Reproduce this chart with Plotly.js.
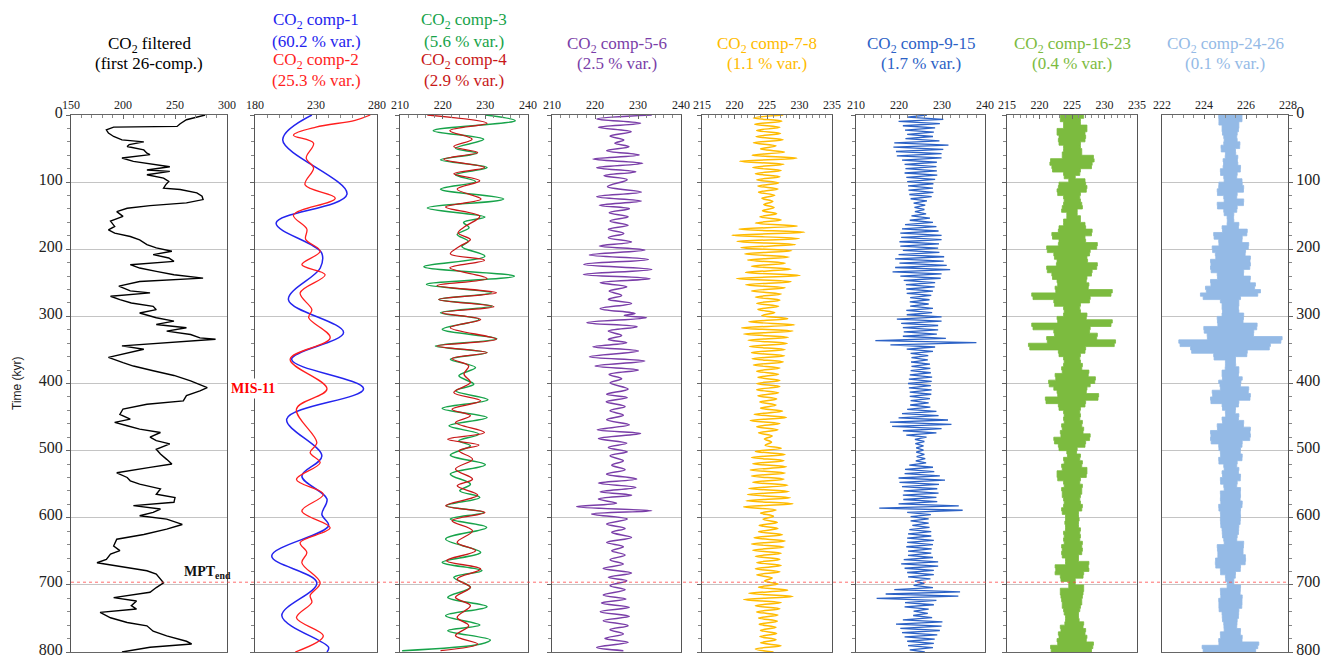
<!DOCTYPE html>
<html>
<head>
<meta charset="utf-8">
<script src="https://cdn.plot.ly/plotly-3.0.1.min.js"></script>
<style>
  html, body { margin: 0; padding: 0; background: #fff; }
  #chart { width: 1328px; height: 658px; }
</style>
</head>
<body>
<div id="chart"></div>
<script>
// ---------------- data (time in kyr, CO2 in ppmv) ----------------

// CO2 filtered (first 26 components)
const co2Age = [0,7,13,17,18,22,27,32,37,40,44,47,52,57,59,64,69,74,77,82,84,89,94,99,104,109,111,116,121,126,131,135,139,144,151,158,166,171,176,181,186,193,198,203,208,213,218,223,228,233,238,243,248,255,262,265,270,275,280,285,290,295,302,307,312,317,322,327,332,334,339,344,349,354,361,369,374,381,388,396,401,406,411,418,426,431,438,446,453,458,463,468,473,480,485,490,498,505,513,520,525,533,540,545,550,557,565,570,577,582,587,592,597,602,610,617,625,632,642,649,654,662,667,672,679,684,692,697,704,711,719,724,731,736,741,749,756,761,769,776,784,788,793,800];
const co2Filtered = [279,261,255,252,191,184,186,191,199,220,206,204,220,223,226,199,210,232,245,223,245,223,239,244,241,239,255,271,276,277,261,226,204,194,200,188,192,186,192,207,216,223,232,247,229,244,249,207,216,232,249,277,216,196,207,226,188,197,208,229,232,216,232,249,232,261,242,265,274,289,239,199,220,207,186,200,210,229,249,265,274,281,274,261,258,223,200,197,207,192,204,216,236,226,232,245,232,236,242,247,226,194,204,207,216,236,232,250,249,210,236,229,216,242,257,242,220,194,191,197,188,184,175,197,223,232,236,239,232,226,191,213,208,213,178,188,204,223,229,242,261,266,226,199];

// comp-1 and comp-2 (turning points)
const comp1Age = [0,37,118,161,205,228,275,324,364,408,453,508,538,572,595,612,657,697,746,793,800];
const comp1 = [226.6,202.7,255.4,197.3,234.5,233.5,207.4,252.6,210.0,269.0,206.0,234.8,218.4,239.0,234.8,240.3,193.7,230.7,202.0,240.3,239.0];
const comp2Age = [0,8,18,30,42,64,79,104,124,149,170,185,203,223,238,265,290,302,332,364,408,438,488,503,518,543,565,590,615,637,652,667,697,716,726,749,776,800];
const comp2 = [274.5,262.0,230.0,211.5,228.0,222.0,228.0,221.0,245.8,211.5,222.5,221.5,233.4,218.4,237.5,217.0,226.6,224.0,241.6,208.8,239.0,214.0,230.7,225.2,233.4,214.0,236.0,218.4,241.6,217.0,222.5,218.4,233.4,225.2,226.6,214.0,236.0,213.0];

// comp-3 and comp-4 (turning points)
const comp3Age = [0,8.4,23.3,36.1,49.5,56.9,66.8,78.2,89.1,99,110.4,125.2,138.6,152,160,168,178,188,196,210.4,226.2,240.1,252.5,264.9,274.8,284.7,294.6,304.5,319.3,333.2,344.1,354,363.9,376.2,388.6,401,410.9,424.3,437.2,450.6,463,475.4,485.4,492.8,506.7,521.1,535,549.9,559.8,569.7,582.1,592.1,602,614.4,631.8,651.6,666.5,678.9,688.8,703.7,718.6,732.5,745.9,759.8,768.2,782.1,788,798];
const comp3 = [230,237,217.8,229.6,223,228,219.5,230.4,223,227.7,219.5,234.3,216.4,229.9,224.9,226.2,223.4,226,224.5,229.9,215.6,236.8,216.2,231.5,219.1,231.6,219.5,228.5,219.9,232.7,218.3,230.4,221.8,227.7,223.8,227.3,223,230.6,219.9,230.4,221.5,228.5,223.8,226.5,221.8,230,221.8,226.5,224,228.7,220.9,229.6,221.8,230.3,220.7,228.9,219.9,229.2,222.6,226.5,221.2,230.4,220.7,228.7,221.2,231.2,229,210.5];
const comp4Age = [0,12.4,23.3,36.1,47,55.9,65.8,78.2,87.6,98,110.4,125.2,137.1,151,165.8,175.7,185.6,195.5,206.9,216.3,227.7,243.6,254,264.9,274.8,285.6,294.6,304.5,316.8,334.2,344.1,354,362.9,373.8,386.1,398.5,413.4,425.8,438.2,448.1,458.1,473,482.9,491.8,500.2,512.7,527.5,542.4,552.4,566.3,582.1,592.1,604.5,619.4,636.7,649.1,664,676.4,691.3,703.7,718.6,731,748.4,760.8,775.7,788.1,798];
const comp4 = [216.4,230.4,221.7,226.9,222.6,228.2,220.3,229.8,222.6,228.7,223.4,229,220.7,228.7,225.3,223.6,226.5,224,221.8,229.8,221.7,230.4,218.7,232.6,219.1,232,219.9,228.9,221.8,232.6,218.7,230.4,222.2,226.1,225,226.5,222.6,228.9,222.2,226.5,223,229.8,221.2,228.5,223.8,227,223,227,223.4,228.2,220.7,229.9,222.2,227,223.4,227.7,220.9,228.9,223.4,226.5,223,226.5,223.4,226.1,223,228.2,219.5];

// comp-5-6 (turning points)
const comp56Age = [0,6,12.4,18.4,24.8,31.3,37.3,42.2,47.2,53.2,59.6,65.6,72,78.5,84.5,90.4,96.4,106.8,114.8,121.7,128.2,134.6,139.6,145.6,151.5,158,164.4,170.4,176.4,182.8,189.3,195.2,201.2,208.6,215.1,222.6,230,237.5,243.9,249.9,255.8,262.3,268.8,274.7,280.7,288.6,295.6,298.8,302.1,309.5,315.5,321.9,328.4,334.3,339.3,345.3,351.7,360.2,366.6,374.1,380,386.5,392.9,399,408.4,415.9,420.8,427.3,434.2,440.7,447.1,454.1,461.5,469,474.4,481.9,488.8,495.3,501.7,507.7,515.1,521.6,528.5,535,542.4,548.4,554.8,561.3,566.3,572.2,578.2,583.6,589.6,594.5,602,609.4,615.9,621.8,629.3,636.7,643.2,649.1,655.6,662.5,669,675.4,682.4,688.8,693.8,701.2,707.2,715.1,721.1,727,733.5,739.9,746.9,753.3,760.8,766.7,773.2,779.7,785.6,793.1,798];
const comp56 = [233.2,220.4,230.6,220.8,228.4,223.5,226.7,224.6,227.9,222.7,230.3,219.5,231.1,220.4,229.5,222.1,227.5,222.9,230.8,220.4,230.8,221.0,228.0,223.3,227.7,223.5,227.7,223.1,226.7,223.1,228.5,221.0,231.6,218.7,232.4,217.4,233.2,217.3,232.8,221.2,227.4,223.3,226.2,223.1,228.5,221.2,229.3,226.8,232.0,218.1,229.8,223.1,226.2,223.1,227.4,219.5,230.1,218.7,231.6,220.0,230.1,223.3,226.2,223.5,227.7,222.7,227.5,222.6,227.0,223.5,226.6,222.7,228.0,220.5,230.6,220.8,227.4,223.1,227.5,223.5,226.6,223.9,227.0,222.7,229.7,220.8,229.5,221.2,228.5,220.8,225.0,215.7,233.2,219.2,227.5,222.7,227.0,223.9,228.5,222.7,226.6,223.9,227.0,223.5,226.6,221.9,228.5,223.1,227.4,223.5,227.0,221.9,227.2,221.5,228.0,221.2,228.0,221.9,227.7,223.5,226.6,222.3,227.7,220.4,226.6];

// comp-7-8 (turning points, evenly spaced over 0-800 kyr)
const comp78 = [227.5,222.9,227.3,223.1,227.0,223.4,227.1,223.3,227.5,222.9,226.4,224.0,227.7,222.7,229.6,220.8,227.6,222.8,227.2,223.2,227.0,223.4,226.8,223.6,226.7,223.7,226.2,224.2,225.9,224.5,226.1,224.3,226.5,223.9,227.2,223.2,229.7,220.7,230.8,219.6,230.0,220.4,229.4,221.0,228.8,221.6,228.4,222.0,227.8,222.6,228.7,221.7,230.1,220.3,228.7,221.7,227.8,222.6,227.2,223.2,227.0,223.4,226.8,223.6,226.2,224.2,228.2,222.2,229.3,221.1,229.0,221.4,228.3,222.1,228.1,222.3,227.8,222.6,227.7,222.7,227.5,222.9,227.0,223.4,226.8,223.6,227.0,223.4,227.0,223.4,226.8,223.6,226.5,223.9,226.4,224.0,227.4,223.0,228.0,222.4,227.0,223.4,226.7,223.7,225.8,224.6,225.7,224.7,227.2,223.2,227.8,222.6,227.6,222.8,228.0,222.4,227.8,222.6,227.6,222.8,228.2,222.2,228.4,222.0,228.6,221.8,229.0,221.4,226.4,224.0,226.0,224.4,226.6,223.8,226.7,223.7,227.4,223.0,227.8,222.6,227.6,222.8,227.2,223.2,227.0,223.4,227.2,223.2,227.0,223.4,225.8,224.6,226.7,223.7,228.2,222.2,229.0,221.4,227.2,223.2,227.0,223.4,226.7,223.7,226.6,223.8,226.4,224.0,226.5,223.9,226.4,224.0,227.2,223.2,226.0];

// comp-9-15 (turning points, evenly spaced over 0-800 kyr)
const comp915 = [226.5,221.9,230.3,219.9,229.5,220.9,228.4,221.4,228.1,221.9,
227.9,221.5,229.4,218.9,231.5,218.7,230.3,219.3,229.9,219.5,
229.9,220.7,228.8,221.3,228.7,221.5,228.8,221.3,228.9,221.7,
228.4,221.9,228.0,222.1,227.9,222.2,228.0,222.4,227.6,222.7,
226.5,223.4,226.1,223.6,225.9,223.7,226.3,222.9,227.2,222.5,
227.9,221.4,228.7,220.7,229.2,220.3,229.9,220.5,229.9,220.1,
229.3,220.3,229.1,220.9,229.4,219.9,230.5,219.1,230.4,220.1,
231.1,219.1,231.9,218.5,229.9,220.3,229.7,221.1,228.4,221.6,
228.3,221.7,227.9,221.8,227.5,222.6,227.1,222.5,226.9,222.6,
227.9,221.7,227.7,221.8,229.9,219.5,229.9,220.5,229.1,220.9,
229.1,221.1,228.8,220.9,230.9,214.5,238.0,218.0,228.4,221.8,
227.9,222.7,226.8,222.9,226.7,222.8,227.2,222.9,227.3,222.7,
227.4,222.5,227.7,222.3,227.6,222.1,227.4,222.3,227.6,222.5,
227.5,222.5,227.2,222.7,226.9,222.6,227.3,221.9,228.7,220.7,
229.2,219.9,231.4,217.9,232.2,218.4,229.9,220.9,228.7,221.7,
226.4,223.7,225.9,223.8,225.7,224.0,225.7,224.0,225.9,224.1,
226.1,223.9,226.3,222.4,227.9,221.4,228.2,221.3,229.5,219.9,
230.7,220.1,229.3,220.7,228.9,221.1,229.2,220.9,228.7,221.0,
228.9,219.9,233.9,215.4,234.8,221.9,227.4,222.7,226.9,222.7,
226.9,223.1,227.1,222.4,227.5,222.1,227.5,221.9,228.1,221.9,
227.9,221.7,227.6,222.1,227.5,222.1,227.9,221.1,229.1,220.5,
229.1,221.3,228.1,221.9,228.1,222.1,227.3,223.7,225.9,223.4,
227.9,218.9,234.2,216.9,233.8,214.8,228.7,221.4,228.1,221.3,
226.9,223.4,226.7,223.3,227.7,220.9,230.1,219.3,229.9,220.3,
229.5,220.7,228.9,221.3,228.3,221.9,228.1,222.1,227.9,222.5,
226.0];

// comp-16-23 and comp-24-26: half-width of the oscillation band, every 5 kyr
const comp1623Centre = 225.0;
const comp1623Spread = [1.8,1.8,1.3,1.3,2.3,2.3,2.0,2.1,2.0,1.3,1.3,1.5,1.5,3.3,3.4,3.1,3.0,1.3,1.2,0.5,2.0,2.1,2.3,2.2,1.3,1.2,1.3,1.5,1.6,0.8,0.8,1.3,1.3,2.0,2.1,3.1,3.0,2.0,2.1,3.9,3.8,2.8,2.7,2.3,2.4,3.9,3.8,3.1,3.0,2.3,2.2,2.6,2.5,6.2,6.0,2.8,2.7,1.3,1.2,1.3,2.3,2.2,6.2,6.0,2.8,2.7,3.9,3.8,6.7,6.5,2.1,2.0,1.3,1.2,1.3,1.6,1.5,2.6,2.5,3.6,3.5,2.8,2.3,2.2,4.1,4.0,2.1,2.0,1.3,1.2,1.3,1.2,1.6,1.5,1.8,1.7,2.8,2.7,2.1,2.0,0.8,0.7,1.3,1.2,1.6,1.5,2.3,2.3,2.2,1.3,1.2,1.6,1.5,1.5,1.3,1.2,1.3,1.6,1.5,1.0,1.0,1.1,1.0,1.0,1.3,1.2,1.3,1.2,1.6,1.5,1.6,1.5,1.0,1.0,2.6,2.5,2.6,1.8,1.7,0.5,0.5,1.8,1.8,1.7,1.6,1.5,1.5,1.3,1.2,1.0,1.0,1.1,1.8,1.7,2.1,2.0,2.3,2.2,3.3,3.2,3.0];
const comp2426Centre = 225.26;
const comp2426Spread = [0.56,0.55,0.55,0.4,0.4,0.38,0.32,0.3,0.32,0.45,0.44,0.24,0.25,0.35,0.33,0.35,0.48,0.47,0.32,0.3,0.55,0.56,0.63,0.62,0.32,0.3,0.63,0.62,0.32,0.3,0.16,0.15,0.16,0.4,0.38,0.8,0.78,0.56,0.55,0.87,0.85,0.72,0.7,0.95,0.93,0.95,0.92,0.63,0.62,0.95,0.93,1.19,1.15,1.43,1.3,0.48,0.4,0.4,0.38,0.4,0.63,0.62,0.6,1.27,1.25,1.11,1.1,2.46,2.4,1.9,1.85,0.8,0.78,0.24,0.24,0.25,0.4,0.4,0.38,0.56,0.5,0.48,0.87,0.85,0.95,0.93,0.4,0.38,0.24,0.23,0.4,0.38,0.63,0.62,0.95,0.93,0.95,0.92,0.56,0.55,0.48,0.47,0.56,0.55,0.32,0.3,0.4,0.38,0.48,0.47,0.32,0.3,0.48,0.47,0.48,0.46,0.56,0.55,0.48,0.47,0.48,0.47,0.46,0.4,0.39,0.38,0.32,0.3,0.63,0.62,0.6,0.6,0.71,0.72,0.7,0.48,0.47,0.24,0.23,0.16,0.16,0.48,0.47,0.46,0.56,0.55,0.55,0.54,0.4,0.39,0.38,0.32,0.31,0.3,0.48,0.47,0.56,0.55,1.35,1.3,1.2];

// Marker ages
const mis11Age = 408;
const mptEndAge = 696;

// ---------------- figure ----------------
const W = 1328, H = 658, TOP = 115, BOTTOM = 652;
const SERIF = '"Liberation Serif", "Times New Roman", serif';

const panels = [
  { px: [71, 227],    range: [150, 300], dtick: 50, minor: 10 },
  { px: [255, 377],   range: [180, 280], dtick: 50, minor: 10 },
  { px: [400, 528],   range: [210, 240], dtick: 10, minor: 2 },
  { px: [552, 681],   range: [210, 240], dtick: 10, minor: 2 },
  { px: [702, 832],   range: [215, 235], dtick: 5,  minor: 1 },
  { px: [856, 985],   range: [210, 240], dtick: 10, minor: 2 },
  { px: [1007, 1137], range: [215, 235], dtick: 5,  minor: 1 },
  { px: [1162, 1288], range: [222, 228], dtick: 2,  minor: 0.5 }
];

const C = {
  black: '#000000', comp1: '#2424ee', comp2: '#ff1e1e', comp3: '#17a34a', comp4: '#c81818',
  comp56: '#7a3ea8', comp78: '#ffbb00', comp915: '#2c62c6', comp1623: '#7cbb3f', comp2426: '#94bae6'
};

const ax = i => (i === 0 ? '' : String(i + 1));
const evenAges = arr => arr.map((_, i) => i * 800 / (arr.length - 1));
const fiveKyr = arr => arr.map((_, i) => i * 5);

function line(i, x, y, color, width, shape) {
  return {
    type: 'scatter', mode: 'lines', x: x, y: y,
    xaxis: 'x' + ax(i), yaxis: 'y' + ax(i),
    line: { color: color, width: width, shape: shape || 'linear', smoothing: 1 },
    hoverinfo: 'skip', showlegend: false
  };
}
function band(i, centre, spread, color) {
  const ages = fiveKyr(spread);
  const right = spread.map(s => centre + s);
  const left = spread.map(s => centre - s).reverse();
  return {
    type: 'scatter', mode: 'lines',
    x: right.concat(left), y: ages.concat(ages.slice().reverse()),
    xaxis: 'x' + ax(i), yaxis: 'y' + ax(i),
    fill: 'toself', fillcolor: color,
    line: { color: color, width: 0.8, shape: 'hv' },
    hoverinfo: 'skip', showlegend: false
  };
}

const traces = [
  line(0, co2Filtered, co2Age, C.black, 1.4),
  line(1, comp1, comp1Age, C.comp1, 1.5, 'spline'),
  line(1, comp2, comp2Age, C.comp2, 1.3, 'spline'),
  line(2, comp3, comp3Age, C.comp3, 1.5, 'spline'),
  line(2, comp4, comp4Age, C.comp4, 1.3, 'spline'),
  line(3, comp56, comp56Age, C.comp56, 1.5, 'spline'),
  line(4, comp78, evenAges(comp78), C.comp78, 1.5, 'spline'),
  line(5, comp915, evenAges(comp915), C.comp915, 1.3),
  band(6, comp1623Centre, comp1623Spread, C.comp1623),
  band(7, comp2426Centre, comp2426Spread, C.comp2426)
];

const layout = {
  width: W, height: H,
  margin: { l: 0, r: 0, t: TOP, b: H - BOTTOM, pad: 0 },
  paper_bgcolor: '#ffffff', plot_bgcolor: '#ffffff',
  showlegend: false,
  font: { family: SERIF, color: '#222' },
  annotations: [], shapes: []
};

panels.forEach((p, i) => {
  layout['xaxis' + ax(i)] = {
    domain: [p.px[0] / W, p.px[1] / W], range: p.range,
    side: 'top', anchor: 'y' + ax(i),
    tick0: p.range[0], dtick: p.dtick,
    ticks: 'inside', ticklen: 4, tickcolor: '#666',
    minor: { dtick: p.minor, ticks: 'inside', ticklen: 3, tickcolor: '#888' },
    showline: true, mirror: true, linecolor: '#666', linewidth: 1,
    showgrid: false, zeroline: false, fixedrange: true,
    ticklabeloverflow: 'allow',
    tickfont: { family: SERIF, size: 12, color: '#222' }
  };
  layout['yaxis' + ax(i)] = {
    domain: [0, 1], range: [800, 0], anchor: 'x' + ax(i),
    tick0: 0, dtick: 100,
    showgrid: true, gridcolor: '#c4c4c4', gridwidth: 1,
    showline: true, mirror: true, linecolor: '#555', linewidth: 1,
    ticks: 'outside', ticklen: 4, tickcolor: '#666',
    minor: { dtick: 20, ticks: 'outside', ticklen: 3, tickcolor: '#888' },
    showticklabels: i === 0 || i === panels.length - 1,
    side: i === panels.length - 1 ? 'right' : 'left',
    ticklabeloverflow: 'allow', ticklabelshift: 3,
    zeroline: false, fixedrange: true,
    tickfont: { family: SERIF, size: 16, color: '#222' }
  };
});

// panel titles
const py = v => (BOTTOM - v) / (BOTTOM - TOP);
const titles = [
  [['CO<sub>2</sub> filtered', C.black, 45], ['(first 26-comp.)', C.black, 63]],
  [['CO<sub>2</sub> comp-1', C.comp1, 21], ['(60.2 % var.)', C.comp1, 41], ['CO<sub>2</sub> comp-2', C.comp2, 61], ['(25.3 % var.)', C.comp2, 80]],
  [['CO<sub>2</sub> comp-3', C.comp3, 21], ['(5.6 % var.)', C.comp3, 41], ['CO<sub>2</sub> comp-4', C.comp4, 61], ['(2.9 % var.)', C.comp4, 80]],
  [['CO<sub>2</sub> comp-5-6', C.comp56, 45], ['(2.5 % var.)', C.comp56, 63]],
  [['CO<sub>2</sub> comp-7-8', C.comp78, 45], ['(1.1 % var.)', C.comp78, 63]],
  [['CO<sub>2</sub> comp-9-15', C.comp915, 45], ['(1.7 % var.)', C.comp915, 63]],
  [['CO<sub>2</sub> comp-16-23', C.comp1623, 45], ['(0.4 % var.)', C.comp1623, 63]],
  [['CO<sub>2</sub> comp-24-26', C.comp2426, 45], ['(0.1 % var.)', C.comp2426, 63]]
];
titles.forEach((lines, i) => {
  const cx = (panels[i].px[0] + panels[i].px[1]) / 2 / W;
  lines.forEach(([text, color, y]) => {
    layout.annotations.push({
      xref: 'paper', yref: 'paper', x: cx, y: py(y),
      xanchor: 'center', yanchor: 'middle', showarrow: false,
      text: text, font: { family: SERIF, size: 17, color: color }
    });
  });
});

// axis title
layout.annotations.push({
  xref: 'paper', yref: 'paper', x: 17 / W, y: py(383),
  xanchor: 'center', yanchor: 'middle', showarrow: false, textangle: -90,
  text: 'Time (kyr)', font: { family: '"Liberation Sans", Arial, sans-serif', size: 12, color: '#222' }
});

// event labels
layout.annotations.push({
  xref: 'paper', yref: 'y', x: 253 / W, y: mis11Age,
  xanchor: 'center', yanchor: 'middle', showarrow: false,
  text: '<b>MIS-11</b>', bgcolor: '#ffffff', borderpad: 2,
  font: { family: SERIF, size: 14, color: '#ff0000' }
});
layout.annotations.push({
  xref: 'paper', yref: 'y', x: 207 / W, y: mptEndAge - 14,
  xanchor: 'center', yanchor: 'middle', showarrow: false,
  text: '<b>MPT<sub>end</sub></b>',
  font: { family: SERIF, size: 14, color: '#111' }
});

// MPT end marker across all panels
layout.shapes.push({
  type: 'line', xref: 'paper', yref: 'y',
  x0: panels[0].px[0] / W, x1: panels[panels.length - 1].px[1] / W,
  y0: mptEndAge, y1: mptEndAge,
  line: { color: 'rgba(255,60,60,0.75)', width: 1, dash: 'dot' },
  layer: 'above'
});

Plotly.newPlot('chart', traces, layout, { staticPlot: true, displayModeBar: false });
</script>
</body>
</html>
